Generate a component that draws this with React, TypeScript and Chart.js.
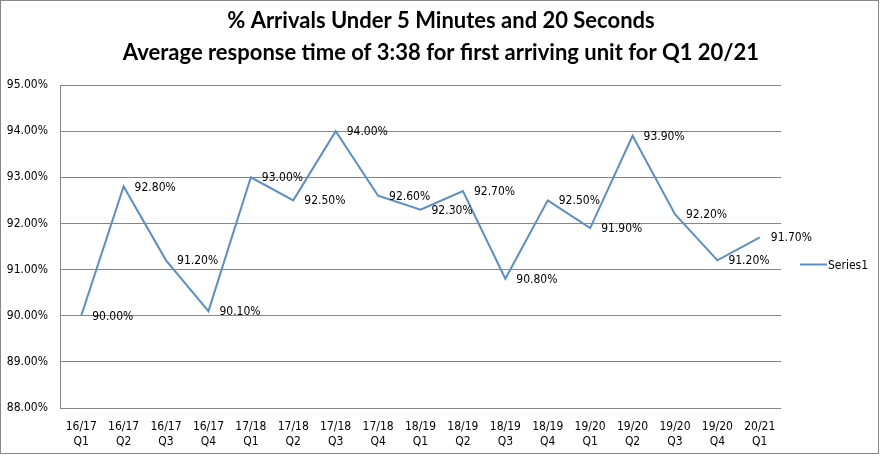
import React, { useEffect, useRef } from "react";
import { Chart, registerables } from "chart.js";

Chart.register(...registerables);

const periods = ["16/17","16/17","16/17","16/17","17/18","17/18","17/18","17/18","18/19","18/19","18/19","18/19","19/20","19/20","19/20","19/20","20/21"];
const quarters = ["Q1","Q2","Q3","Q4","Q1","Q2","Q3","Q4","Q1","Q2","Q3","Q4","Q1","Q2","Q3","Q4","Q1"];
const series1 = [0.900,0.928,0.912,0.901,0.930,0.925,0.940,0.926,0.923,0.927,0.908,0.925,0.919,0.939,0.922,0.912,0.917];
const seriesName = "Series1";
const titleLines = ["% Arrivals Under 5 Minutes and 20 Seconds", "Average response time of 3:38 for first arriving unit for Q1 20/21"];

const LINE_COLOR = "#5A8ECB";
const GRID_COLOR = "#868686";
const TEXT_FONT = "'DejaVu Sans Condensed', 'DejaVu Sans', sans-serif";

const extras = {
  id: "extras",
  afterDatasetsDraw(chart: any) {
    const ctx = chart.ctx;
    const meta = chart.getDatasetMeta(0);
    ctx.save();
    // title
    ctx.font = "bold 22px Lato, sans-serif";
    ctx.fillStyle = "#000";
    ctx.textAlign = "center";
    ctx.textBaseline = "middle";
    ctx.fillText(titleLines[0], chart.width / 2, 21);
    ctx.fillText(titleLines[1], chart.width / 2, 53);
    // data labels
    ctx.font = `12px ${TEXT_FONT}`;
    ctx.textAlign = "left";
    meta.data.forEach((pt: any, i: number) => {
      const v = chart.data.datasets[0].data[i] as number;
      ctx.fillText((v * 100).toFixed(2) + "%", pt.x + 11, pt.y + 1);
    });
    // legend
    const ca = chart.chartArea;
    const ly = (ca.top + ca.bottom) / 2 + 18;
    const lx = ca.right + 19;
    ctx.strokeStyle = LINE_COLOR;
    ctx.lineWidth = 2;
    ctx.beginPath();
    ctx.moveTo(lx, ly);
    ctx.lineTo(lx + 27, ly);
    ctx.stroke();
    ctx.fillText(seriesName, lx + 28, ly + 1);
    // outer border
    ctx.strokeStyle = GRID_COLOR;
    ctx.lineWidth = 1;
    ctx.strokeRect(0.5, 0.5, 878, 453);
    ctx.restore();
  },
};

export default function App() {
  const ref = useRef<HTMLCanvasElement>(null);
  useEffect(() => {
    document.body.style.margin = "0";
    const chart = new Chart(ref.current!, {
      type: "line",
      data: {
        labels: periods.map((p, i) => [p, quarters[i]]),
        datasets: [
          {
            label: seriesName,
            data: series1,
            borderColor: LINE_COLOR,
            borderWidth: 2,
            pointRadius: 0,
            tension: 0,
            fill: false,
          },
        ],
      },
      options: {
        animation: false,
        responsive: false,
        layout: { padding: { right: 101, left: 0, top: 85, bottom: 0 } },
        plugins: {
          legend: { display: false },
          tooltip: { enabled: false },
          title: { display: false },
        },
        scales: {
          x: {
            offset: true,
            grid: { display: false, drawTicks: false },
            border: { display: false },
            ticks: {
              color: "#000",
              font: { family: TEXT_FONT, size: 12, lineHeight: 1.25 },
              padding: 11,
              maxRotation: 0,
              autoSkip: false,
            },
            afterFit(scale: any) {
              scale.height = 48;
            },
          },
          y: {
            min: 0.88,
            max: 0.95,
            grid: { color: GRID_COLOR, drawTicks: false },
            border: { display: true, color: GRID_COLOR },
            afterFit(scale: any) {
              scale.width = 60;
            },
            ticks: {
              stepSize: 0.01,
              color: "#000",
              padding: 12,
              font: { family: TEXT_FONT, size: 12 },
              callback: (v: any) => (Number(v) * 100).toFixed(2) + "%",
            },
          },
        },
      },
      plugins: [extras],
    });
    return () => chart.destroy();
  }, []);
  return (
    <div style={{ width: 882, height: 456, background: "#fff" }}>
      <canvas ref={ref} width={882} height={456} />
    </div>
  );
}
